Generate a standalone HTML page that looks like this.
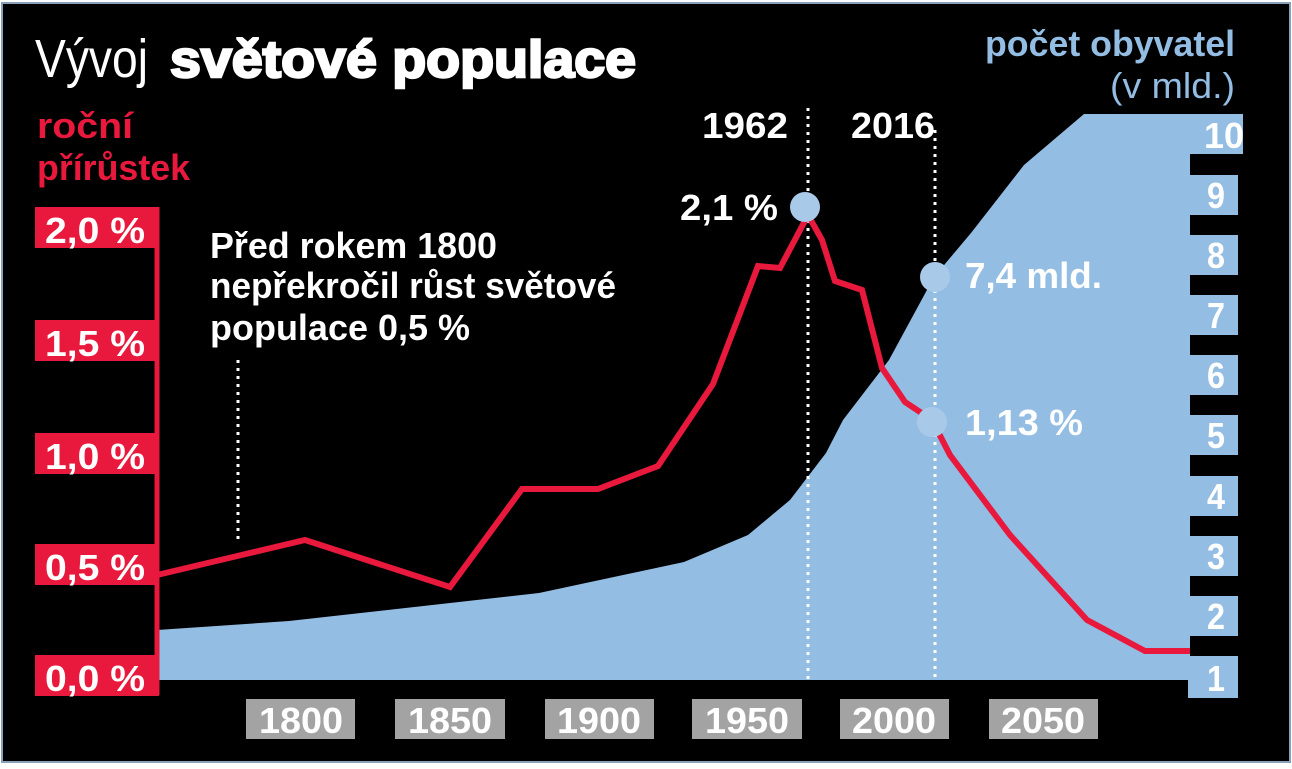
<!DOCTYPE html>
<html><head><meta charset="utf-8"><style>
html,body{margin:0;padding:0;background:#fff}
svg{display:block}
text{font-family:"Liberation Sans",sans-serif}
</style></head><body>
<svg width="1292" height="769" viewBox="0 0 1292 769" xmlns="http://www.w3.org/2000/svg">
<rect x="0" y="0" width="1292" height="769" fill="#fff"/>
<rect x="2" y="3" width="1288" height="759" fill="#000" stroke="#8aa0b8" stroke-width="2"/>
<path d="M157,630 L289,621 L539,593 L684,562 L748,535 L790,500 L826,453 L843,420 L889,360 L934,277 L971,233 L1024,165 L1084,114 L1190,114 L1190,680 L157,680 Z" fill="#94bde3"/>
<g fill="#94bde3">
<rect x="1188" y="114" width="55" height="40"/>
<rect x="1188" y="175" width="50" height="40"/>
<rect x="1188" y="235" width="50" height="40"/>
<rect x="1188" y="295" width="50" height="40"/>
<rect x="1188" y="355" width="50" height="40"/>
<rect x="1188" y="415" width="50" height="40"/>
<rect x="1188" y="476" width="50" height="40"/>
<rect x="1188" y="536" width="50" height="40"/>
<rect x="1188" y="596" width="50" height="40"/>
<rect x="1188" y="656" width="50" height="42"/>
</g>
<g fill="#fff" font-size="36" font-weight="bold" text-anchor="middle">
<text x="1224" y="148" textLength="40" lengthAdjust="spacingAndGlyphs">10</text>
<text x="1216" y="208" textLength="18" lengthAdjust="spacingAndGlyphs">9</text>
<text x="1216" y="268" textLength="18" lengthAdjust="spacingAndGlyphs">8</text>
<text x="1216" y="328" textLength="18" lengthAdjust="spacingAndGlyphs">7</text>
<text x="1216" y="388" textLength="18" lengthAdjust="spacingAndGlyphs">6</text>
<text x="1216" y="448" textLength="18" lengthAdjust="spacingAndGlyphs">5</text>
<text x="1216" y="509" textLength="18" lengthAdjust="spacingAndGlyphs">4</text>
<text x="1216" y="569" textLength="18" lengthAdjust="spacingAndGlyphs">3</text>
<text x="1216" y="629" textLength="18" lengthAdjust="spacingAndGlyphs">2</text>
<text x="1216" y="691" textLength="18" lengthAdjust="spacingAndGlyphs">1</text>
</g>
<g stroke="#fff" stroke-width="3" stroke-dasharray="3,5" fill="none">
<line x1="238" y1="360" x2="238" y2="540"/>
<line x1="808" y1="108" x2="808" y2="680"/>
<line x1="935" y1="130" x2="935" y2="680"/>
</g>
<line x1="157" y1="207" x2="157" y2="695" stroke="#e8193c" stroke-width="5"/>
<g fill="#e8193c">
<rect x="35" y="207" width="124" height="41"/>
<rect x="35" y="320" width="124" height="41"/>
<rect x="35" y="433" width="124" height="41"/>
<rect x="35" y="544" width="124" height="41"/>
<rect x="35" y="655" width="124" height="41"/>
</g>
<g fill="#fff" font-size="36" font-weight="bold">
<text x="45" y="243" textLength="100" lengthAdjust="spacingAndGlyphs">2,0 %</text>
<text x="45" y="356" textLength="100" lengthAdjust="spacingAndGlyphs">1,5 %</text>
<text x="45" y="469" textLength="100" lengthAdjust="spacingAndGlyphs">1,0 %</text>
<text x="45" y="580" textLength="100" lengthAdjust="spacingAndGlyphs">0,5 %</text>
<text x="45" y="691" textLength="100" lengthAdjust="spacingAndGlyphs">0,0 %</text>
</g>
<polyline points="157,575 305,540 450,587 522,489 598,489 658,466 713,384 758,266 780,268 808,215 822,240 835,281 862,290 882,368 905,402 932,420 950,455 1010,535 1087,620 1145,651 1190,651" fill="none" stroke="#e8193c" stroke-width="6"/>
<g fill="#a9c9e8">
<circle cx="805" cy="207" r="15"/>
<circle cx="935" cy="277" r="15"/>
<circle cx="932" cy="422" r="15"/>
</g>
<g fill="#a3a3a3">
<rect x="246" y="699" width="109" height="40"/>
<rect x="395" y="699" width="110" height="40"/>
<rect x="545" y="699" width="109" height="40"/>
<rect x="692" y="699" width="110" height="40"/>
<rect x="840" y="699" width="109" height="40"/>
<rect x="989" y="699" width="109" height="40"/>
</g>
<g fill="#fff" font-size="36" font-weight="bold">
<text x="259" y="733" textLength="84" lengthAdjust="spacingAndGlyphs">1800</text>
<text x="408" y="733" textLength="84" lengthAdjust="spacingAndGlyphs">1850</text>
<text x="557" y="733" textLength="84" lengthAdjust="spacingAndGlyphs">1900</text>
<text x="705" y="733" textLength="84" lengthAdjust="spacingAndGlyphs">1950</text>
<text x="852" y="733" textLength="84" lengthAdjust="spacingAndGlyphs">2000</text>
<text x="1001" y="733" textLength="84" lengthAdjust="spacingAndGlyphs">2050</text>
</g>
<g fill="#fff" font-size="36" font-weight="bold">
<text x="702" y="138" textLength="86" lengthAdjust="spacingAndGlyphs">1962</text>
<text x="851" y="138" textLength="84" lengthAdjust="spacingAndGlyphs">2016</text>
<text x="680" y="220" textLength="98" lengthAdjust="spacingAndGlyphs">2,1 %</text>
<text x="965" y="288" textLength="137" lengthAdjust="spacingAndGlyphs">7,4 mld.</text>
<text x="965" y="435" textLength="118" lengthAdjust="spacingAndGlyphs">1,13 %</text>
<text x="210" y="258" textLength="287" lengthAdjust="spacingAndGlyphs">Před rokem 1800</text>
<text x="210" y="298" textLength="406" lengthAdjust="spacingAndGlyphs">nepřekročil růst světové</text>
<text x="210" y="340" textLength="260" lengthAdjust="spacingAndGlyphs">populace 0,5 %</text>
</g>
<text x="35" y="77" fill="#fff" font-size="54" textLength="113" lengthAdjust="spacingAndGlyphs">Vývoj</text>
<text x="170" y="77" fill="#fff" font-size="52" font-weight="bold" stroke="#fff" stroke-width="2.5" textLength="466" lengthAdjust="spacingAndGlyphs">světové populace</text>
<g fill="#e8193c" font-size="36" font-weight="bold">
<text x="37" y="138" textLength="96" lengthAdjust="spacingAndGlyphs">roční</text>
<text x="37" y="180" textLength="153" lengthAdjust="spacingAndGlyphs">přírůstek</text>
</g>
<g fill="#94bde3" font-size="36">
<text x="985" y="56" font-weight="bold" textLength="250" lengthAdjust="spacingAndGlyphs">počet obyvatel</text>
<text x="1110" y="98" textLength="125" lengthAdjust="spacingAndGlyphs">(v mld.)</text>
</g>
</svg>
</body></html>
